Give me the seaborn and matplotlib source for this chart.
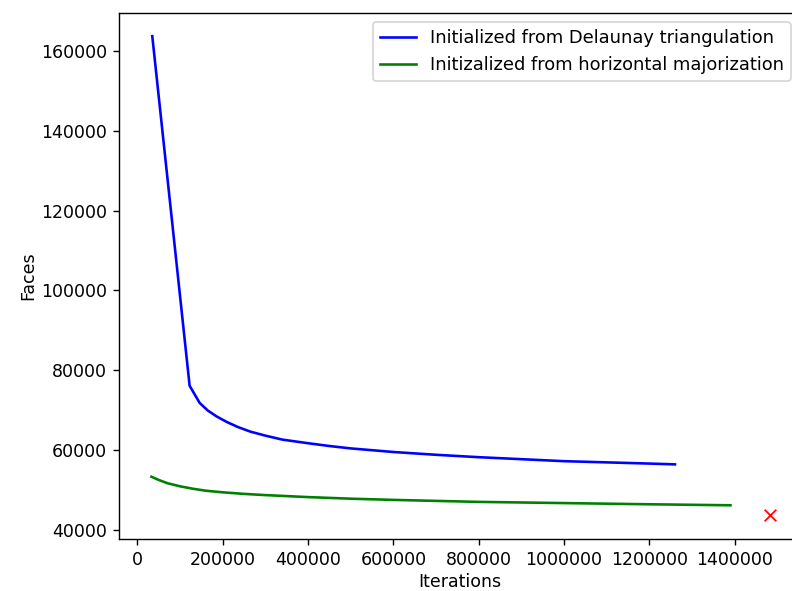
import matplotlib
matplotlib.use('Agg')
import matplotlib.pyplot as plt
import seaborn as sb
import pandas as pd

# blue: initialized from Delaunay triangulation
delaunayIter = [35000, 122500, 146000, 165000, 186000, 210000, 237000, 265000, 300000,
                340000, 400000, 450000, 500000, 600000, 700000, 800000, 900000,
                1000000, 1100000, 1200000, 1260000]
delaunayFaces = [163700, 76100, 71800, 69900, 68400, 67000, 65700, 64600, 63600,
                 62600, 61700, 61000, 60400, 59500, 58800, 58200, 57700,
                 57200, 56900, 56600, 56400]

# green: initialized from horizontal majorization
majorIter = [33000, 50000, 70000, 100000, 130000, 160000, 200000, 250000, 300000,
             400000, 500000, 600000, 800000, 1000000, 1200000, 1390000]
majorFaces = [53300, 52500, 51700, 50900, 50300, 49800, 49400, 49000, 48700,
              48200, 47800, 47500, 47000, 46700, 46400, 46150]

# single red marker
bestIter = [1482000]
bestFaces = [43700]

dfDel = pd.DataFrame({'Iterations': delaunayIter, 'Faces': delaunayFaces})
dfMaj = pd.DataFrame({'Iterations': majorIter, 'Faces': majorFaces})
dfBest = pd.DataFrame({'Iterations': bestIter, 'Faces': bestFaces})

plt.rcParams['font.family'] = ['DejaVu Sans']
fig, ax = plt.subplots(figsize=(792/125, 591/125), dpi=125)
# the axes run a little past the right edge of the picture, as in the reference
fig.subplots_adjust(left=119/792, right=800/792, top=1-13/591, bottom=1-539/591)

sb.lineplot(dfDel, x='Iterations', y='Faces', color='blue', linewidth=1.5,
            label='Initialized from Delaunay triangulation', ax=ax)
sb.lineplot(dfMaj, x='Iterations', y='Faces', color='green', linewidth=1.5,
            label='Initizalized from horizontal majorization', ax=ax)
sb.scatterplot(dfBest, x='Iterations', y='Faces', color='red', marker='x',
               s=45, linewidth=1.0, ax=ax)

ax.set_xlim(-43000, 1553000)
ax.set_ylim(37700, 169500)
ax.ticklabel_format(style='plain', useOffset=False)
ax.set_xlabel('Iterations', labelpad=2)
ax.set_ylabel('Faces', labelpad=2)
ax.legend(loc='upper right', fontsize=10.3)

fig.savefig('out.png', dpi=125)
